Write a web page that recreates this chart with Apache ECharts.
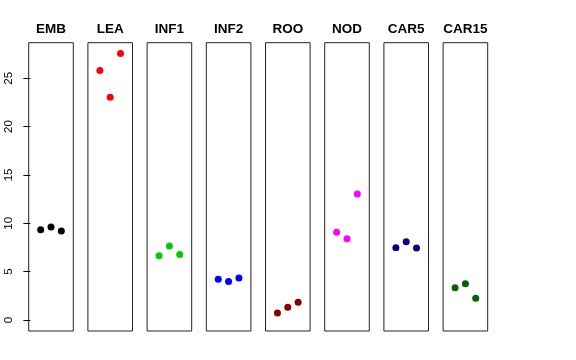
<!DOCTYPE html>
<html><head><meta charset="utf-8">
<script src="https://cdn.jsdelivr.net/npm/echarts@6/dist/echarts.min.js"></script>
<style>html,body{margin:0;padding:0;background:#fff}#c{width:576px;height:360px}</style>
</head><body><div id="c"></div>
<script>
const panels = ['EMB','LEA','INF1','INF2','ROO','NOD','CAR5','CAR15'];
const colors = ['#000000','#FF0000','#00CD00','#0000FF','#8B0000','#FF00FF','#000080','#006400'];
const xPos = [1, 2, 3];
const EMB = [9.34, 9.62, 9.21];
const LEA = [25.8, 23.04, 27.55];
const INF1 = [6.65, 7.66, 6.76];
const INF2 = [4.21, 3.97, 4.34];
const ROO = [0.72, 1.31, 1.83];
const NOD = [9.07, 8.41, 13.03];
const CAR5 = [7.48, 8.1, 7.45];
const CAR15 = [3.34, 3.76, 2.24];
const values = [EMB, LEA, INF1, INF2, ROO, NOD, CAR5, CAR15];
const yTicks = [0, 5, 10, 15, 20, 25];

(function () {
const chart = echarts.init(document.getElementById('c'), null, {renderer:'canvas'});
const left0 = 28.7, step = 59.2, w = 44.6, gTop = 42.7, gH = 288.3;
const grids = [], xAxes = [], yAxes = [], series = [], graphics = [];
panels.forEach((p, i) => {
  const L = left0 + i * step;
  grids.push({left: L, top: gTop, width: w, height: gH, show: true, borderColor: '#222', borderWidth: 1, backgroundColor: 'transparent'});
  xAxes.push({type: 'value', gridIndex: i, min: -0.16, max: 4.16, show: false});
  const first = i === 0;
  yAxes.push({
    type: 'value', gridIndex: i, min: -1.14, max: 28.68, show: first,
    splitLine: {show: false},
    axisLine: {show: false},
    axisTick: {show: first, length: 7, inside: false, lineStyle: {color: '#000'}, customValues: yTicks},
    axisLabel: {show: first, rotate: 90, margin: 20, color: '#000', fontSize: 11.5, fontFamily: 'Liberation Sans, Arial, sans-serif', customValues: yTicks, verticalAlign: 'middle', align: 'center'}
  });
  series.push({
    type: 'scatter', xAxisIndex: i, yAxisIndex: i, symbolSize: 7,
    itemStyle: {color: colors[i], opacity: 1}, silent: true,
    data: xPos.map((x, k) => [x, values[i][k]])
  });
  graphics.push({type: 'text', x: L + w / 2, y: 29.5, style: {text: p, align: 'center', verticalAlign: 'middle', font: 'bold 13.5px "Liberation Sans", Arial, sans-serif', fill: '#000'}});
});
chart.setOption({
  animation: false,
  grid: grids, xAxis: xAxes, yAxis: yAxes, series: series, graphic: graphics
});
})();
</script></body></html>
